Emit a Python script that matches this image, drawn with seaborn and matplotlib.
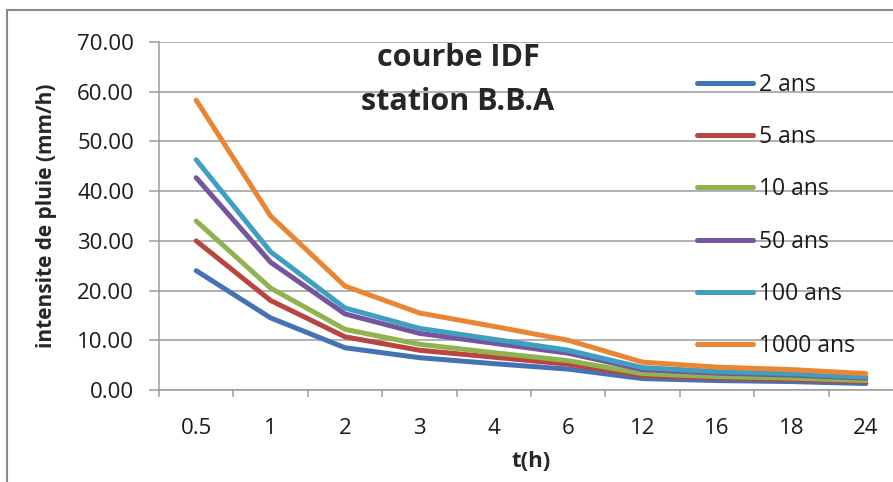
import numpy as np
import pandas as pd
import matplotlib
matplotlib.use("Agg")
import matplotlib.pyplot as plt
import seaborn as sns
from matplotlib.ticker import FormatStrFormatter, FixedLocator
from matplotlib.patches import Rectangle

# ---- data ----
durations = ["0.5", "1", "2", "3", "4", "6", "12", "16", "18", "24"]
series_names = ["2 ans", "5 ans", "10 ans", "50 ans", "100 ans", "1000 ans"]
i_2 = [24.0, 14.5, 8.5, 6.5, 5.3, 4.2, 2.3, 1.9, 1.7, 1.3]
i_5 = [30.0, 18.0, 10.7, 8.0, 6.6, 5.2, 2.9, 2.4, 2.1, 1.7]
i_10 = [34.0, 20.5, 12.2, 9.2, 7.5, 5.9, 3.3, 2.7, 2.4, 1.9]
i_50 = [42.7, 25.7, 15.3, 11.4, 9.4, 7.4, 4.1, 3.4, 3.0, 2.4]
i_100 = [46.3, 27.8, 16.5, 12.4, 10.2, 8.0, 4.5, 3.7, 3.3, 2.6]
i_1000 = [58.3, 35.0, 20.9, 15.5, 12.8, 10.0, 5.6, 4.6, 4.1, 3.3]
y_ticks = [0, 10, 20, 30, 40, 50, 60, 70]

colors = ["#4572B4", "#B8453F", "#8EB34F", "#76559E", "#3F9FC0", "#EA8534"]

rows = []
for name, vals in zip(series_names, [i_2, i_5, i_10, i_50, i_100, i_1000]):
    for d, v in zip(durations, vals):
        rows.append({"t": d, "i": v, "serie": name})
df = pd.DataFrame(rows)

sns.set_style("white")
plt.rcParams["font.family"] = ["Open Sans", "DejaVu Sans"]

fig = plt.figure(figsize=(8.93, 4.82), dpi=100)
W, H = 893, 482
ax = fig.add_axes([159 / W, 1 - 390 / H, 744 / W, 348 / H])

sns.lineplot(data=df, x="t", y="i", hue="serie", hue_order=series_names,
             palette=colors, sort=False, estimator=None, lw=3.6,
             solid_capstyle="round", ax=ax, legend=True)

ax.set_xlim(-0.5, len(durations) - 0.5)
ax.set_ylim(0, 70)
ax.yaxis.set_major_locator(FixedLocator(y_ticks))
ax.yaxis.set_major_formatter(FormatStrFormatter("%.2f"))
ax.set_xticks(range(len(durations)))
ax.set_xticklabels(durations)
ax.xaxis.set_minor_locator(FixedLocator(np.arange(-0.5, len(durations), 1.0)))

gray = "#9b9b9b"
ax.grid(axis="y", color=gray, lw=1.1)
ax.grid(axis="x", visible=False)
for s in ["top", "right"]:
    ax.spines[s].set_visible(False)
for s in ["left", "bottom"]:
    ax.spines[s].set_color(gray)
    ax.spines[s].set_linewidth(1.1)

ax.tick_params(axis="y", which="major", direction="out", length=7, width=1.1,
               color=gray, pad=11, labelsize=16, labelcolor="#1a1a1a", left=True)
ax.tick_params(axis="x", which="major", length=0, pad=20, labelsize=16,
               labelcolor="#1a1a1a")
ax.tick_params(axis="x", which="minor", direction="out", length=5, width=1.1,
               color=gray, bottom=True)

ax.set_xlabel("t(h)", fontsize=16, fontweight="bold")
ax.set_ylabel("intensite de pluie (mm/h)", fontsize=15, fontweight="bold")
ax.xaxis.set_label_coords(0.5, -0.175)
ax.yaxis.set_label_coords(-0.137, 0.5)

ax.text((458 - 159) / 744, (390 - 58) / 348, "courbe IDF", transform=ax.transAxes,
        ha="center", va="center", fontsize=22, fontweight="bold")
ax.text((458 - 159) / 744, (390 - 102) / 348, "station B.B.A", transform=ax.transAxes,
        ha="center", va="center", fontsize=22, fontweight="bold")

handles, labels = ax.get_legend_handles_labels()
for h in handles:
    h.set_linewidth(3.6)
    h.set_solid_capstyle("round")
leg = ax.legend(handles, labels, loc="upper left", frameon=False,
                bbox_to_anchor=(697 / W, 1 - 73 / H), bbox_transform=fig.transFigure,
                fontsize=16.5, handlelength=2.45, handletextpad=0.25,
                labelspacing=1.23, borderpad=0, borderaxespad=0)
for t in leg.get_texts():
    t.set_color("#1a1a1a")

# outer chart frame
fig.patches.append(Rectangle((7 / W, -0.1), 1.2, 1 - 10 / H + 0.1, transform=fig.transFigure,
                             fill=False, edgecolor="#8a8a8a", lw=1.5))

fig.savefig("out.png", dpi=100)
